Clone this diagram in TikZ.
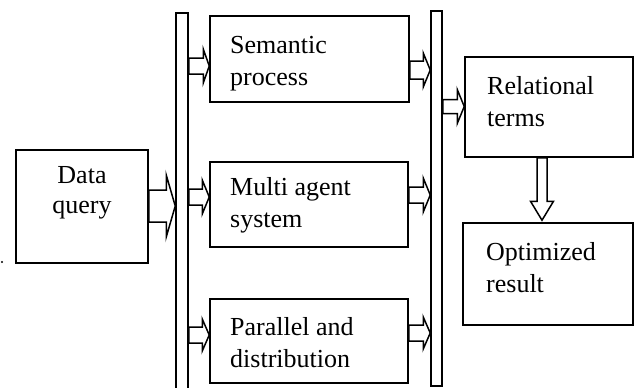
\documentclass[tikz,border=0pt]{standalone}
\usepackage{fontspec}
\setmainfont{Liberation Serif}
\usetikzlibrary{calc}
\tikzset{
  x=1pt, y=-1pt,
  box/.style={draw, line width=1.5pt, rectangle, inner sep=0pt, fill=white},
  txt/.style={inner sep=0pt, align=left, font=\fontsize{26}{32}\selectfont},
  bar/.style={draw, line width=1.5pt, fill=white, inner sep=0pt, rectangle},
  barrow/.style={draw, line width=1.5pt, fill=white, line join=miter},
}
% horizontal block arrow: #1 start, #2 end (tip), #3 body half height, #4 head half height, #5 head length
\newcommand\harr[5]{\draw[barrow] let \p1=(#1), \p2=(#2) in
  (\x1,{\y1+#3}) -- ({\x2-#5},{\y1+#3}) -- ({\x2-#5},{\y1+#4}) -- (\x2,\y1)
  -- ({\x2-#5},{\y1-#4}) -- ({\x2-#5},{\y1-#3}) -- (\x1,{\y1-#3}) -- cycle;}
\begin{document}
\begin{tikzpicture}
\useasboundingbox (0,0) rectangle (635,388);
% bars
\node[bar, minimum width=12, minimum height=378] (lbar) at (182,202) {};
\node[bar, minimum width=11, minimum height=375] (rbar) at (436.5,198.5) {};
% boxes
\node[box, minimum width=132, minimum height=113] (dq) at (82,206.5) {};
\node[box, minimum width=199, minimum height=86] (sem) at (309.5,59) {};
\node[box, minimum width=198, minimum height=85] (mas) at (309,204.5) {};
\node[box, minimum width=198, minimum height=84] (pd) at (309,341) {};
\node[box, minimum width=168, minimum height=100] (rt) at (549,107) {};
\node[box, minimum width=170, minimum height=102] (or) at (548,274) {};
% texts
\node[txt, align=center, font=\fontsize{26}{30}\selectfont] (dqt) at (82,193) {Data\\query};
\node[txt, anchor=west] (semt) at (230,64) {Semantic\\process};
\node[txt, anchor=west] (mast) at (230,205.5) {Multi agent\\system};
\node[txt, anchor=west] (pdt) at (230,342.5) {Parallel and\\distribution};
\node[txt, anchor=west] (rtt) at (487,101.5) {Relational\\terms};
\node[txt, anchor=west] (ort) at (486,268) {Optimized\\result};
% arrows
\harr{dq.east |- 0,206}{lbar.west |- 0,206}{16pt}{31pt}{9pt}
\harr{lbar.east |- 0,66}{sem.west |- 0,66}{8pt}{17pt}{6pt}
\harr{sem.east |- 0,70}{rbar.west |- 0,70}{9pt}{17pt}{7pt}
\harr{lbar.east |- 0,197}{mas.west |- 0,197}{8pt}{17pt}{7pt}
\harr{mas.east |- 0,195}{rbar.west |- 0,195}{8pt}{17pt}{7pt}
\harr{lbar.east |- 0,335}{pd.west |- 0,335}{8pt}{16pt}{7pt}
\harr{pd.east |- 0,333}{rbar.west |- 0,333}{8pt}{16pt}{7pt}
\harr{rbar.east |- 0,106.5}{rt.west |- 0,106.5}{7pt}{17pt}{7pt}
% down arrow
\draw[barrow] let \p1=(rt.south -| 542,0), \p2=(or.north -| 542,0) in
  ({\x1-5pt},\y1) -- ({\x1-5pt},{\y2+21pt}) -- ({\x1-11.5pt},{\y2+21pt}) -- (\x1,{\y2+2pt})
  -- ({\x1+11.5pt},{\y2+21pt}) -- ({\x1+5pt},{\y2+21pt}) -- ({\x1+5pt},\y1) -- cycle;
\fill (2,262) circle (1.2);
\end{tikzpicture}
\end{document}
